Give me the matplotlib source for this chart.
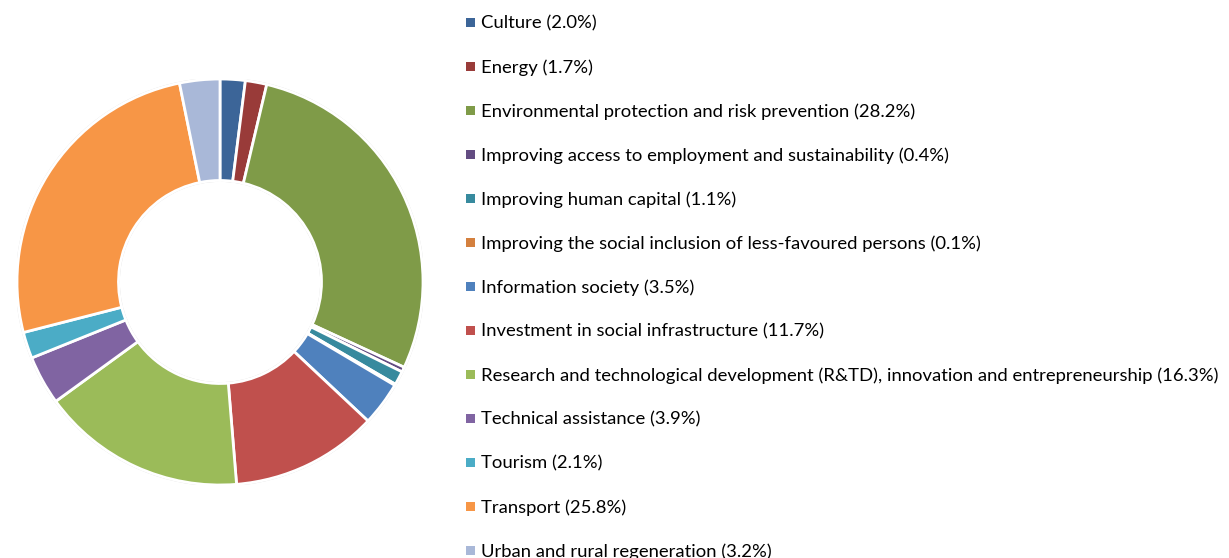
import matplotlib.pyplot as plt
from matplotlib.patches import Rectangle, Circle

labels = [
    'Culture', 'Energy', 'Environmental protection and risk prevention',
    'Improving access to employment and sustainability', 'Improving human capital',
    'Improving the social inclusion of less-favoured persons', 'Information society',
    'Investment in social infrastructure',
    'Research and technological development (R&TD), innovation and entrepreneurship',
    'Technical assistance', 'Tourism', 'Transport', 'Urban and rural regeneration',
]
shares = [2.0, 1.7, 28.2, 0.4, 1.1, 0.1, 3.5, 11.7, 16.3, 3.9, 2.1, 25.8, 3.2]
colors = ['#3c6598', '#993b39', '#7f9b48', '#634c82', '#378a9e', '#d4803e', '#4f81bd',
          '#c0504d', '#9bbb59', '#8064a2', '#4bacc6', '#f79646', '#a9b8d8']

W, H = 1229, 558
fig = plt.figure(figsize=(W / 100, H / 100), dpi=100)
plt.rcParams['font.family'] = ['Lato', 'DejaVu Sans']

# donut: centre (220, 282) px from top-left, radius 203 px
cx, cy, r = 220, 282, 203
ax = fig.add_axes([(cx - r) / W, (H - cy - r) / H, 2 * r / W, 2 * r / H])
# faint grey rim like the soft shadow in the original
ax.add_patch(Circle((0, 0), 1.0, facecolor='none', edgecolor='#dcdcdc', lw=2, zorder=0))
ax.add_patch(Circle((0, 0), 0.5, facecolor='none', edgecolor='#dcdcdc', lw=2, zorder=0))
wedges, _ = ax.pie(shares, colors=colors, startangle=90, counterclock=False,
                   wedgeprops=dict(width=0.5, edgecolor='white', linewidth=2))
ax.set_xlim(-1.0, 1.0)
ax.set_ylim(-1.0, 1.0)
ax.set_aspect('equal')
ax.axis('off')

# legend, one row every 44 px
y0, step = 22, 44
for i, (lab, val, col) in enumerate(zip(labels, shares, colors)):
    y = H - (y0 + i * step)
    fig.add_artist(Rectangle((466 / W, (y - 4.5) / H), 9 / W, 9 / H,
                             transform=fig.transFigure, color=col, lw=0))
    fig.text(481 / W, y / H, f'{lab} ({val:.1f}%)', fontsize=13.3, color='#000000',
             va='center_baseline', ha='left')

plt.savefig('out.png', dpi=100)
